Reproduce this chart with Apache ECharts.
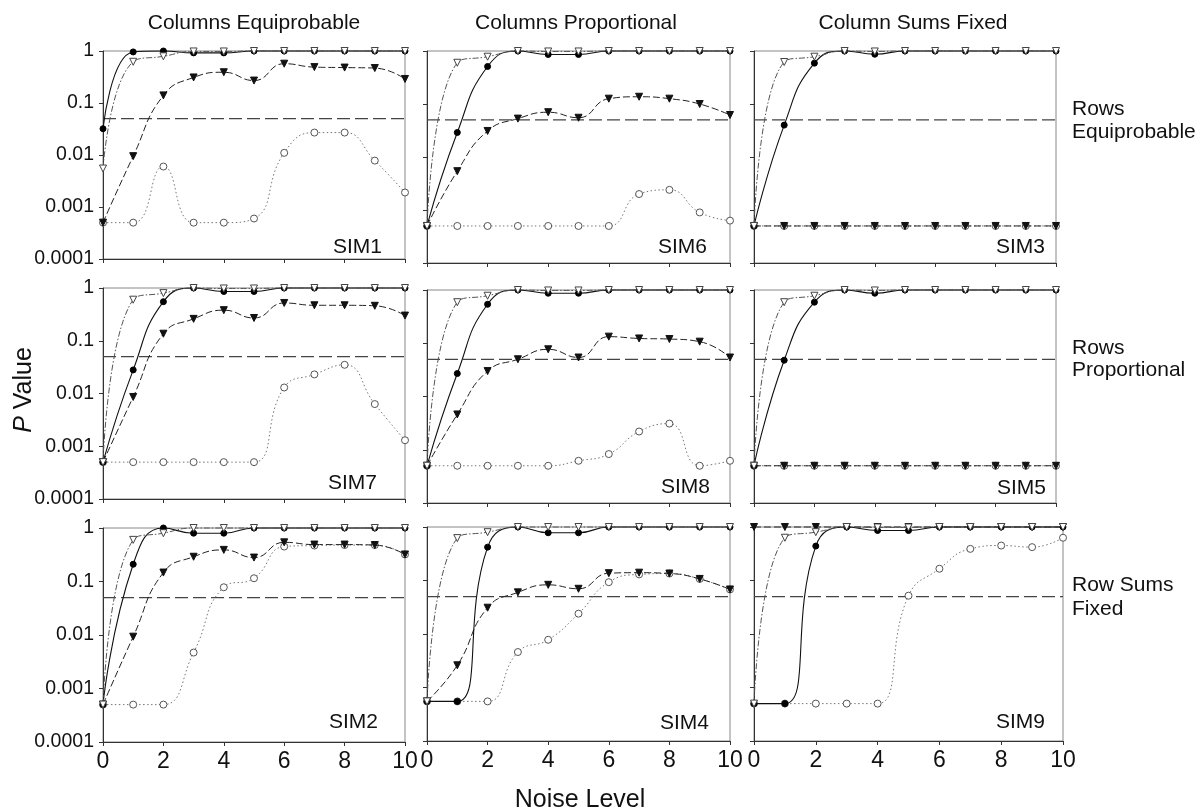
<!DOCTYPE html>
<html>
<head>
<meta charset="utf-8">
<title>P Value vs Noise Level</title>
<script src="https://cdn.jsdelivr.net/npm/echarts@6/dist/echarts.min.js"></script>
<style>
  html, body { margin: 0; padding: 0; background: #fff; }
  #main { width: 1198px; height: 812px; }
</style>
</head>
<body>
<div id="main"></div>
<script>
// x values and tick labels
const noise = [0, 1, 2, 3, 4, 5, 6, 7, 8, 9, 10];
const yTickLabels = ['1', '0.1', '0.01', '0.001', '0.0001'];
const cutoff = 0.05;

const colTitles = ['Columns Equiprobable', 'Columns Proportional', 'Column Sums Fixed'];
const rowTitles = [['Rows', 'Equiprobable'], ['Rows', 'Proportional'], ['Row Sums', 'Fixed']];

// a = filled circles (solid), b = open triangles (dash-dot), c = filled triangles (dashed), d = open circles (dotted)
const sim1a = [0.032, 0.96, 1, 0.92, 0.92, 1, 1, 1, 1, 1, 1];
const sim1b = [0.0055, 0.62, 0.79, 0.98, 0.98, 1, 1, 1, 1, 1, 1];
const sim1c = [0.0005, 0.0095, 0.14, 0.31, 0.39, 0.27, 0.57, 0.49, 0.48, 0.47, 0.29];
const sim1d = [0.0005, 0.0005, 0.006, 0.0005, 0.0005, 0.0006, 0.011, 0.027, 0.027, 0.0078, 0.0019];

const sim6a = [0.0005, 0.029, 0.51, 1, 0.86, 0.86, 1, 1, 1, 1, 1];
const sim6b = [0.0005, 0.6, 0.78, 1, 0.98, 0.98, 1, 1, 1, 1, 1];
const sim6c = [0.0005, 0.0054, 0.031, 0.053, 0.07, 0.055, 0.126, 0.137, 0.126, 0.1, 0.062];
const sim6d = [0.0005, 0.0005, 0.0005, 0.0005, 0.0005, 0.0005, 0.0005, 0.002, 0.0024, 0.0009, 0.00063];

const sim3a = [0.0005, 0.04, 0.59, 1, 0.87, 1, 1, 1, 1, 1, 1];
const sim3b = [0.0005, 0.62, 0.78, 1, 0.98, 1, 1, 1, 1, 1, 1];
const sim3c = [0.0005, 0.0005, 0.0005, 0.0005, 0.0005, 0.0005, 0.0005, 0.0005, 0.0005, 0.0005, 0.0005];
const sim3d = [0.0005, 0.0005, 0.0005, 0.0005, 0.0005, 0.0005, 0.0005, 0.0005, 0.0005, 0.0005, 0.0005];

const sim7a = [0.0005, 0.028, 0.55, 1, 0.86, 0.86, 1, 1, 1, 1, 1];
const sim7b = [0.0005, 0.6, 0.8, 1, 0.98, 0.98, 1, 1, 1, 1, 1];
const sim7c = [0.0005, 0.0086, 0.136, 0.26, 0.38, 0.27, 0.52, 0.47, 0.47, 0.46, 0.3];
const sim7d = [0.0005, 0.0005, 0.0005, 0.0005, 0.0005, 0.0005, 0.013, 0.023, 0.035, 0.0063, 0.0013];

const sim8a = [0.0005, 0.027, 0.54, 1, 0.87, 0.87, 1, 1, 1, 1, 1];
const sim8b = [0.0005, 0.59, 0.78, 1, 0.98, 0.98, 1, 1, 1, 1, 1];
const sim8c = [0.0005, 0.0046, 0.03, 0.05, 0.077, 0.054, 0.133, 0.123, 0.12, 0.107, 0.054];
const sim8d = [0.0005, 0.0005, 0.0005, 0.0005, 0.0005, 0.00062, 0.00083, 0.0022, 0.0031, 0.0005, 0.00062];

const sim5a = [0.0005, 0.048, 0.59, 1, 0.87, 1, 1, 1, 1, 1, 1];
const sim5b = [0.0005, 0.59, 0.78, 1, 0.98, 1, 1, 1, 1, 1, 1];
const sim5c = [0.0005, 0.0005, 0.0005, 0.0005, 0.0005, 0.0005, 0.0005, 0.0005, 0.0005, 0.0005, 0.0005];
const sim5d = [0.0005, 0.0005, 0.0005, 0.0005, 0.0005, 0.0005, 0.0005, 0.0005, 0.0005, 0.0005, 0.0005];

const sim2a = [0.0005, 0.21, 1, 0.8, 0.8, 1, 1, 1, 1, 1, 1];
const sim2b = [0.0005, 0.6, 0.8, 1, 1, 1, 1, 1, 1, 1, 1];
const sim2c = [0.0005, 0.0093, 0.147, 0.29, 0.39, 0.28, 0.54, 0.49, 0.49, 0.48, 0.32];
const sim2d = [0.0005, 0.0005, 0.0005, 0.0047, 0.078, 0.115, 0.45, 0.47, 0.48, 0.48, 0.32];

const sim4a = [0.00055, 0.00055, 0.42, 1, 0.78, 0.78, 1, 1, 1, 1, 1];
const sim4b = [0.00055, 0.62, 0.8, 1, 1, 1, 1, 1, 1, 1, 1];
const sim4c = [0.00055, 0.0026, 0.031, 0.06, 0.083, 0.07, 0.137, 0.14, 0.135, 0.107, 0.068];
const sim4d = [0.00055, 0.00055, 0.00055, 0.0046, 0.0078, 0.024, 0.093, 0.13, 0.135, 0.107, 0.068];

const sim9a = [0.0005, 0.0005, 0.44, 1, 0.86, 0.86, 1, 1, 1, 1, 1];
const sim9b = [0.0005, 0.63, 0.8, 1, 0.98, 0.98, 1, 1, 1, 1, 1];
const sim9c = [1, 1, 1, 1, 1, 1, 1, 1, 1, 1, 1];
const sim9d = [0.0005, 0.0005, 0.0005, 0.0005, 0.0005, 0.052, 0.166, 0.39, 0.45, 0.42, 0.63];

const panels = [
  { name: 'SIM1', row: 0, col: 0, vals: [sim1a, sim1b, sim1c, sim1d] },
  { name: 'SIM6', row: 0, col: 1, vals: [sim6a, sim6b, sim6c, sim6d] },
  { name: 'SIM3', row: 0, col: 2, vals: [sim3a, sim3b, sim3c, sim3d] },
  { name: 'SIM7', row: 1, col: 0, vals: [sim7a, sim7b, sim7c, sim7d] },
  { name: 'SIM8', row: 1, col: 1, vals: [sim8a, sim8b, sim8c, sim8d] },
  { name: 'SIM5', row: 1, col: 2, vals: [sim5a, sim5b, sim5c, sim5d] },
  { name: 'SIM2', row: 2, col: 0, vals: [sim2a, sim2b, sim2c, sim2d] },
  { name: 'SIM4', row: 2, col: 1, vals: [sim4a, sim4b, sim4c, sim4d] },
  { name: 'SIM9', row: 2, col: 2, vals: [sim9a, sim9b, sim9c, sim9d] }
];

const FONT = 'Liberation Sans, Arial, Helvetica, sans-serif';

// marker / line look of the 4 series, and draw order (z)
const looks = [
  { symbol: 'circle', rotate: 0, size: 6, fill: '#000', border: '#000', line: '#111', type: 'solid', width: 1.1, z: 4 },
  { symbol: 'triangle', rotate: 180, size: 7, fill: '#fff', border: '#444', line: '#555', type: [6, 2, 1.5, 2], width: 1, z: 5 },
  { symbol: 'triangle', rotate: 180, size: 7, fill: '#111', border: '#111', line: '#222', type: [7, 3], width: 1, z: 3 },
  { symbol: 'circle', rotate: 0, size: 7, fill: '#fff', border: '#555', line: '#777', type: [1.5, 2.5], width: 1, z: 2 }
];

function box(row, col) {
  const left = [103, 427, 754][col];
  let width = [302, 303, 302][col];
  if (row === 2 && col === 2) width = 309;
  const top = col === 0 ? [51, 288, 528][row] : [51, 290, 527][row];
  const height = col === 0 ? [208, 211, 214][row] : [212, 213, 214][row];
  return { left, top, width, height };
}

const grids = [], xAxes = [], yAxes = [], series = [], texts = [];

panels.forEach(function (p, k) {
  const b = box(p.row, p.col);
  grids.push({ left: b.left, top: b.top, width: b.width, height: b.height,
    show: true, borderColor: '#888', borderWidth: 1, backgroundColor: 'transparent' });
  xAxes.push({
    gridIndex: k, type: 'value', min: 0, max: 10, interval: 2,
    axisLine: { show: true, onZero: false, lineStyle: { color: '#333', width: 1 } },
    axisTick: { show: true, length: 4, lineStyle: { color: '#333' } },
    splitLine: { show: false },
    axisLabel: { show: p.row === 2, fontFamily: FONT, fontSize: 23, color: '#111', margin: 8 }
  });
  yAxes.push({
    gridIndex: k, type: 'log', logBase: 10, min: 0.0001, max: 1,
    axisLine: { show: true, lineStyle: { color: '#333', width: 1 } },
    axisTick: { show: true, length: 4, lineStyle: { color: '#333' } },
    splitLine: { show: false },
    axisLabel: {
      show: p.col === 0, fontFamily: FONT, fontSize: 19.5, color: '#111', margin: 9,
      formatter: function (v) {
        const i = Math.round(-Math.log10(v));
        return yTickLabels[i] !== undefined ? yTickLabels[i] : '';
      }
    }
  });
  // 0.05 reference line
  series.push({
    type: 'line', xAxisIndex: k, yAxisIndex: k, z: 1,
    data: [[noise[0], cutoff], [noise[noise.length - 1], cutoff]],
    symbol: 'none', silent: true,
    lineStyle: { color: '#444', width: 1.2, type: [13, 5] }
  });
  p.vals.forEach(function (vals, s) {
    const l = looks[s];
    series.push({
      type: 'line', xAxisIndex: k, yAxisIndex: k, z: l.z,
      data: noise.map(function (x, i) { return [x, vals[i]]; }),
      smooth: 0.5, clip: false,
      symbol: l.symbol, symbolSize: l.size, symbolRotate: l.rotate,
      itemStyle: { color: l.fill, borderColor: l.border, borderWidth: 1 },
      lineStyle: { color: l.line, width: l.width, type: l.type }
    });
  });
});

// SIM labels (right edge x, center y)
const simPos = {
  SIM1: [382, 247], SIM6: [707, 247], SIM3: [1045, 247],
  SIM7: [377, 483], SIM8: [710, 487], SIM5: [1046, 488],
  SIM2: [378, 722], SIM4: [709, 723], SIM9: [1045, 722]
};
panels.forEach(function (p) {
  texts.push({ type: 'text', x: simPos[p.name][0], y: simPos[p.name][1], z: 10,
    style: { text: p.name, font: '21px ' + FONT, fill: '#111', textAlign: 'right', textVerticalAlign: 'middle' } });
});

// column titles
[254, 576, 913].forEach(function (cx, i) {
  texts.push({ type: 'text', x: cx, y: 23,
    style: { text: colTitles[i], font: '21px ' + FONT, fill: '#111', textAlign: 'center', textVerticalAlign: 'middle' } });
});

// row titles
[[109, 132], [348, 370], [585, 609]].forEach(function (ys, i) {
  rowTitles[i].forEach(function (t, j) {
    texts.push({ type: 'text', x: 1072, y: ys[j],
      style: { text: t, font: '21px ' + FONT, fill: '#111', textAlign: 'left', textVerticalAlign: 'middle' } });
  });
});

// axis names
texts.push({ type: 'text', x: 580, y: 800,
  style: { text: 'Noise Level', font: '25px ' + FONT, fill: '#111', textAlign: 'center', textVerticalAlign: 'middle' } });
texts.push({ type: 'text', x: 24, y: 390, rotation: Math.PI / 2,
  style: { text: '{i|P} Value', font: '25px ' + FONT, fill: '#111', textAlign: 'center', textVerticalAlign: 'middle',
    rich: { i: { fontStyle: 'italic', fontSize: 25, fontFamily: FONT, fill: '#111' } } } });

const chart = echarts.init(document.getElementById('main'));
chart.setOption({
  animation: false,
  backgroundColor: '#fff',
  grid: grids,
  xAxis: xAxes,
  yAxis: yAxes,
  series: series,
  graphic: texts
});
</script>
</body>
</html>
